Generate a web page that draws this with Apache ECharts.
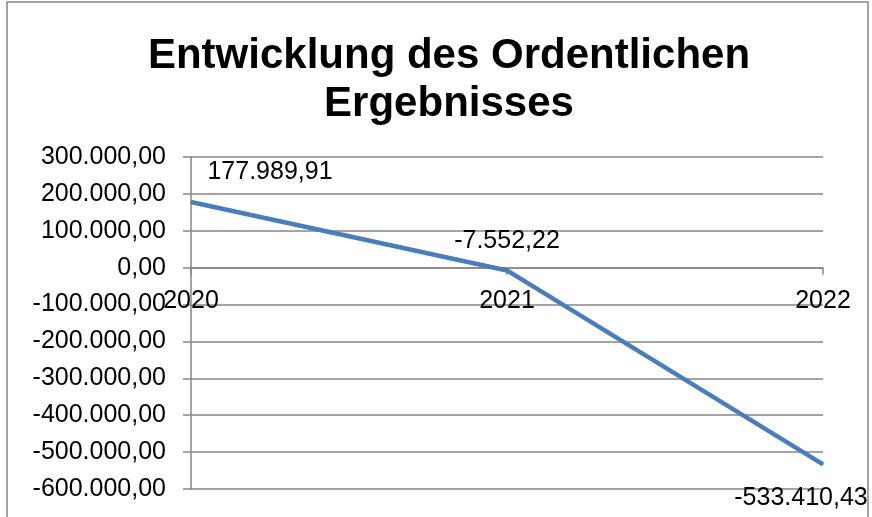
<!DOCTYPE html>
<html>
<head>
<meta charset="utf-8">
<script src="https://cdn.jsdelivr.net/npm/echarts@6/dist/echarts.min.js"></script>
<style>
  html, body { margin: 0; padding: 0; background: #fff; }
  #chart { width: 872px; height: 517px; }
</style>
</head>
<body>
<div id="chart"></div>
<script>
// Daten
let years = ['2020', '2021', '2022'];
let ergebnis = [177989.91, -7552.22, -533410.43];
let yMin = -600000;
let yMax = 300000;
let yStep = 100000;

// deutsches Zahlenformat 1.234,56
function fmtDe(v) {
    let neg = v < 0;
    let s = Math.abs(v).toFixed(2);
    let parts = s.split('.');
    let int = parts[0].replace(/\B(?=(\d{3})+(?!\d))/g, '.');
    return (neg ? '-' : '') + int + ',' + parts[1];
}

let font = 'Liberation Sans, Arial, sans-serif';

let gridTop = 157, gridBottom = 28;
let plotHeight = 517 - gridTop - gridBottom;
// x-Achse sitzt auf der Nulllinie
let zeroOffset = -plotHeight * (0 - yMin) / (yMax - yMin);

// Label-Positionen wie im Original
let labelOffsets = [[79, -12], [0, -11], [-22, 16]];
let labelPos = ['top', 'top', 'bottom'];

let seriesData = ergebnis.map(function (v, i) {
    return {
        value: v,
        label: { position: labelPos[i], offset: labelOffsets[i] }
    };
});

let myChart = echarts.init(document.getElementById('chart'));

let option = {
    animation: false,
    title: {
        text: 'Entwicklung des Ordentlichen\nErgebnisses',
        left: 444,
        top: 27,
        textAlign: 'center',
        textStyle: {
            fontFamily: font,
            fontWeight: 'bold',
            fontSize: 42,
            lineHeight: 48,
            color: '#000'
        }
    },
    graphic: [{
        type: 'rect',
        shape: { x: 7, y: 2, width: 861, height: 530 },
        style: { fill: 'none', stroke: '#868686', lineWidth: 1.5 },
        silent: true
    }],
    grid: {
        left: 191,
        right: 49,
        top: gridTop,
        bottom: gridBottom,
        outerBoundsMode: 'none'
    },
    xAxis: {
        type: 'category',
        data: years,
        boundaryGap: false,
        offset: zeroOffset,
        axisLine: { onZero: false, lineStyle: { color: '#868686', width: 1.5 } },
        axisTick: { show: true, length: 7, lineStyle: { color: '#868686', width: 1.5 } },
        axisLabel: {
            fontFamily: font,
            fontSize: 25,
            color: '#000',
            margin: 21
        },
        splitLine: { show: false }
    },
    yAxis: {
        type: 'value',
        min: yMin,
        max: yMax,
        interval: yStep,
        axisLine: { show: true, lineStyle: { color: '#868686', width: 1.5 } },
        axisTick: { show: true, length: 8, lineStyle: { color: '#868686', width: 1.5 } },
        axisLabel: {
            fontFamily: font,
            fontSize: 25,
            color: '#000',
            margin: 25,
            formatter: fmtDe
        },
        splitLine: { show: true, lineStyle: { color: '#868686', width: 1.5 } }
    },
    series: [{
        type: 'line',
        data: seriesData,
        symbol: 'circle',
        symbolSize: 1,
        itemStyle: { color: '#4a7ebb' },
        lineStyle: { color: '#4a7ebb', width: 4.5 },
        label: {
            show: true,
            fontFamily: font,
            fontSize: 25,
            color: '#000',
            formatter: function (p) { return fmtDe(p.value); }
        }
    }]
};

myChart.setOption(option);
</script>
</body>
</html>
